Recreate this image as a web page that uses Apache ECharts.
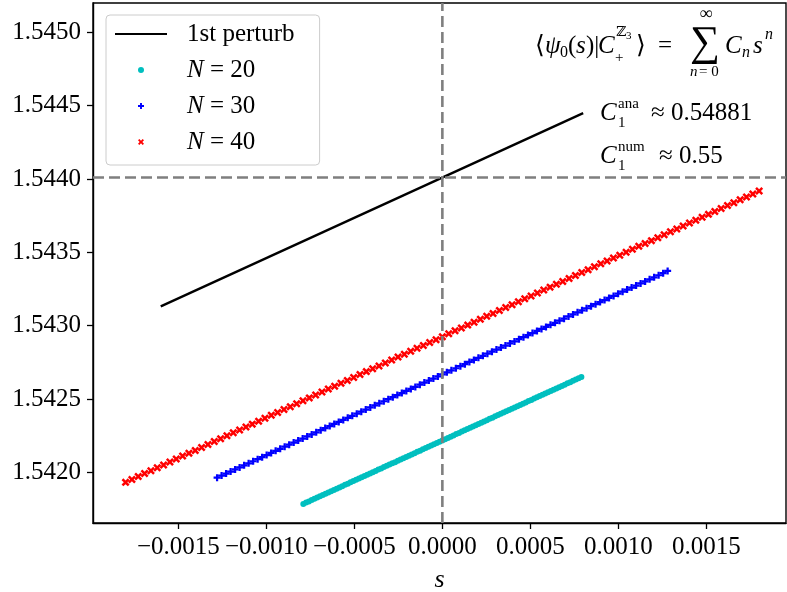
<!DOCTYPE html>
<html><head><meta charset="utf-8">
<script src="https://cdn.jsdelivr.net/npm/echarts@6/dist/echarts.min.js"></script>
<style>html,body{margin:0;padding:0;background:#fff;overflow:hidden}#c{width:787px;height:592px}</style>
</head><body><div id="c"></div>
<script>
// ---------- data ----------
const xMin = -0.001985, xMax = 0.0019525;
const yMin = 1.541655, yMax = 1.5452;
const xTicks = [-0.0015, -0.001, -0.0005, 0, 0.0005, 0.001, 0.0015];
const xTickLabels = ['\u22120.0015', '\u22120.0010', '\u22120.0005', '0.0000', '0.0005', '0.0010', '0.0015'];
const yTicks = [1.542, 1.5425, 1.543, 1.5435, 1.544, 1.5445, 1.545];
const yTickLabels = ['1.5420', '1.5425', '1.5430', '1.5435', '1.5440', '1.5445', '1.5450'];

const refS = 0;          // vertical dashed line
const refY = 1.54401;    // horizontal dashed line

const sBlack = [-0.0016, 0.0008];
const yBlack = [1.543132, 1.544449];

const sCyan = [-0.00079,-0.0007742,-0.0007584,-0.0007426,-0.0007268,-0.000711,-0.0006952,-0.0006794,-0.0006636,-0.0006478,
-0.000632,-0.0006162,-0.0006004,-0.0005846,-0.0005688,-0.000553,-0.0005372,-0.0005214,-0.0005056,-0.0004898,
-0.000474,-0.0004582,-0.0004424,-0.0004266,-0.0004108,-0.000395,-0.0003792,-0.0003634,-0.0003476,-0.0003318,
-0.000316,-0.0003002,-0.0002844,-0.0002686,-0.0002528,-0.000237,-0.0002212,-0.0002054,-0.0001896,-0.0001738,
-0.000158,-0.0001422,-0.0001264,-0.0001106,-0.0000948,-0.000079,-0.0000632,-0.0000474,-0.0000316,-0.0000158,
0,
0.0000158,0.0000316,0.0000474,0.0000632,0.000079,0.0000948,0.0001106,0.0001264,0.0001422,0.000158,
0.0001738,0.0001896,0.0002054,0.0002212,0.000237,0.0002528,0.0002686,0.0002844,0.0003002,0.000316,
0.0003318,0.0003476,0.0003634,0.0003792,0.000395,0.0004108,0.0004266,0.0004424,0.0004582,0.000474,
0.0004898,0.0005056,0.0005214,0.0005372,0.000553,0.0005688,0.0005846,0.0006004,0.0006162,0.000632,
0.0006478,0.0006636,0.0006794,0.0006952,0.000711,0.0007268,0.0007426,0.0007584,0.0007742,0.00079];
const yCyan = [1.541785,1.541794,1.541802,1.541811,1.541820,1.541828,1.541837,1.541846,1.541854,1.541863,
1.541872,1.541880,1.541889,1.541897,1.541906,1.541915,1.541923,1.541932,1.541941,1.541949,
1.541958,1.541967,1.541975,1.541984,1.541993,1.542001,1.542010,1.542019,1.542027,1.542036,
1.542045,1.542053,1.542062,1.542070,1.542079,1.542088,1.542096,1.542105,1.542114,1.542122,
1.542131,1.542140,1.542148,1.542157,1.542166,1.542174,1.542183,1.542192,1.542200,1.542209,
1.542218,
1.542226,1.542235,1.542243,1.542252,1.542261,1.542269,1.542278,1.542287,1.542295,1.542304,
1.542313,1.542321,1.542330,1.542339,1.542347,1.542356,1.542365,1.542373,1.542382,1.542391,
1.542399,1.542408,1.542416,1.542425,1.542434,1.542442,1.542451,1.542460,1.542468,1.542477,
1.542486,1.542494,1.542503,1.542512,1.542520,1.542529,1.542538,1.542546,1.542555,1.542564,
1.542572,1.542581,1.542589,1.542598,1.542607,1.542615,1.542624,1.542633,1.542641,1.542650];

const sBlue = [-0.00128,-0.0012544,-0.0012288,-0.0012032,-0.0011776,-0.001152,-0.0011264,-0.0011008,-0.0010752,-0.0010496,
-0.001024,-0.0009984,-0.0009728,-0.0009472,-0.0009216,-0.000896,-0.0008704,-0.0008448,-0.0008192,-0.0007936,
-0.000768,-0.0007424,-0.0007168,-0.0006912,-0.0006656,-0.00064,-0.0006144,-0.0005888,-0.0005632,-0.0005376,
-0.000512,-0.0004864,-0.0004608,-0.0004352,-0.0004096,-0.000384,-0.0003584,-0.0003328,-0.0003072,-0.0002816,
-0.000256,-0.0002304,-0.0002048,-0.0001792,-0.0001536,-0.000128,-0.0001024,-0.0000768,-0.0000512,-0.0000256,
0,
0.0000256,0.0000512,0.0000768,0.0001024,0.000128,0.0001536,0.0001792,0.0002048,0.0002304,0.000256,
0.0002816,0.0003072,0.0003328,0.0003584,0.000384,0.0004096,0.0004352,0.0004608,0.0004864,0.000512,
0.0005376,0.0005632,0.0005888,0.0006144,0.00064,0.0006656,0.0006912,0.0007168,0.0007424,0.000768,
0.0007936,0.0008192,0.0008448,0.0008704,0.000896,0.0009216,0.0009472,0.0009728,0.0009984,0.001024,
0.0010496,0.0010752,0.0011008,0.0011264,0.001152,0.0011776,0.0012032,0.0012288,0.0012544,0.00128];
const yBlue = [1.541964,1.541978,1.541992,1.542006,1.542020,1.542034,1.542048,1.542062,1.542076,1.542090,
1.542104,1.542118,1.542133,1.542147,1.542161,1.542175,1.542189,1.542203,1.542217,1.542231,
1.542245,1.542259,1.542273,1.542288,1.542302,1.542316,1.542330,1.542344,1.542358,1.542372,
1.542386,1.542400,1.542414,1.542428,1.542443,1.542457,1.542471,1.542485,1.542499,1.542513,
1.542527,1.542541,1.542555,1.542569,1.542583,1.542598,1.542612,1.542626,1.542640,1.542654,
1.542668,
1.542682,1.542696,1.542710,1.542724,1.542738,1.542753,1.542767,1.542781,1.542795,1.542809,
1.542823,1.542837,1.542851,1.542865,1.542879,1.542893,1.542908,1.542922,1.542936,1.542950,
1.542964,1.542978,1.542992,1.543006,1.543020,1.543034,1.543048,1.543063,1.543077,1.543091,
1.543105,1.543119,1.543133,1.543147,1.543161,1.543175,1.543189,1.543203,1.543218,1.543232,
1.543246,1.543260,1.543274,1.543288,1.543302,1.543316,1.543330,1.543344,1.543358,1.543373];

const sRed = [-0.0018,-0.001764,-0.001728,-0.001692,-0.001656,-0.00162,-0.001584,-0.001548,-0.001512,-0.001476,
-0.00144,-0.001404,-0.001368,-0.001332,-0.001296,-0.00126,-0.001224,-0.001188,-0.001152,-0.001116,
-0.00108,-0.001044,-0.001008,-0.000972,-0.000936,-0.0009,-0.000864,-0.000828,-0.000792,-0.000756,
-0.00072,-0.000684,-0.000648,-0.000612,-0.000576,-0.00054,-0.000504,-0.000468,-0.000432,-0.000396,
-0.00036,-0.000324,-0.000288,-0.000252,-0.000216,-0.00018,-0.000144,-0.000108,-0.000072,-0.000036,
0,
0.000036,0.000072,0.000108,0.000144,0.00018,0.000216,0.000252,0.000288,0.000324,0.00036,
0.000396,0.000432,0.000468,0.000504,0.00054,0.000576,0.000612,0.000648,0.000684,0.00072,
0.000756,0.000792,0.000828,0.000864,0.0009,0.000936,0.000972,0.001008,0.001044,0.00108,
0.001116,0.001152,0.001188,0.001224,0.00126,0.001296,0.001332,0.001368,0.001404,0.00144,
0.001476,0.001512,0.001548,0.001584,0.00162,0.001656,0.001692,0.001728,0.001764,0.0018];
const yRed = [1.541932,1.541952,1.541972,1.541992,1.542011,1.542031,1.542051,1.542071,1.542091,1.542111,
1.542131,1.542150,1.542170,1.542190,1.542210,1.542230,1.542250,1.542270,1.542289,1.542309,
1.542329,1.542349,1.542369,1.542389,1.542409,1.542429,1.542448,1.542468,1.542488,1.542508,
1.542528,1.542548,1.542568,1.542587,1.542607,1.542627,1.542647,1.542667,1.542687,1.542707,
1.542726,1.542746,1.542766,1.542786,1.542806,1.542826,1.542846,1.542865,1.542885,1.542905,
1.542925,
1.542945,1.542965,1.542985,1.543004,1.543024,1.543044,1.543064,1.543084,1.543104,1.543124,
1.543143,1.543163,1.543183,1.543203,1.543223,1.543243,1.543263,1.543282,1.543302,1.543322,
1.543342,1.543362,1.543382,1.543402,1.543422,1.543441,1.543461,1.543481,1.543501,1.543521,
1.543541,1.543561,1.543580,1.543600,1.543620,1.543640,1.543660,1.543680,1.543700,1.543719,
1.543739,1.543759,1.543779,1.543799,1.543819,1.543839,1.543858,1.543878,1.543898,1.543918];

// ---------- chart ----------
const SERIF = '"Liberation Serif", "DejaVu Serif", serif';
const pair = (xs, ys) => xs.map((x, i) => [x, ys[i]]);
const labelOf = (ticks, labels) => v => {
  const i = ticks.findIndex(t => Math.abs(t - v) < 1e-9);
  return i >= 0 ? labels[i] : '';
};
const PLUS = 'path://M3.4,0H6.6V3.4H10V6.6H6.6V10H3.4V6.6H0V3.4H3.4Z';
const CROSS = 'path://M0,2.2L2.2,0L5,2.8L7.8,0L10,2.2L7.2,5L10,7.8L7.8,10L5,7.2L2.2,10L0,7.8L2.8,5Z';
const LINEICON = 'path://M0,0H520V22H0Z';

const chart = echarts.init(document.getElementById('c'), null, {renderer: 'canvas'});

function t(text, x, y, size, italic, align) {
  return {
    type: 'text', z: 100, silent: true,
    style: {
      text: text, x: x, y: y, fill: '#000',
      font: (italic ? 'italic ' : '') + size + 'px ' + SERIF,
      textAlign: align || 'left', textVerticalAlign: 'middle'
    }
  };
}

const FS = 25;
const dashStyle = {color: '#7f7f7f', width: 2.6, type: [11, 5]};
const option = {
  animation: false,
  backgroundColor: '#fff',
  grid: {left: 93, right: 1, top: 3, bottom: 69, show: true, borderColor: '#000', borderWidth: 1.4,
         containLabel: false, outerBoundsMode: 'none'},
  xAxis: {
    type: 'value', min: xMin, max: xMax,
    name: 's', nameLocation: 'middle', nameGap: 44,
    nameTextStyle: {fontFamily: SERIF, fontStyle: 'italic', fontSize: 26, color: '#000'},
    axisLine: {show: true, onZero: false, lineStyle: {color: '#000', width: 1.4}},
    axisTick: {show: true, length: 6, inside: false, lineStyle: {color: '#000', width: 1.3}, customValues: xTicks},
    axisLabel: {customValues: xTicks, formatter: labelOf(xTicks, xTickLabels), fontFamily: SERIF, fontSize: FS, color: '#000', margin: 12},
    splitLine: {show: false}
  },
  yAxis: {
    type: 'value', min: yMin, max: yMax,
    axisLine: {show: true, onZero: false, lineStyle: {color: '#000', width: 1.4}},
    axisTick: {show: true, length: 6, inside: false, lineStyle: {color: '#000', width: 1.3}, customValues: yTicks},
    axisLabel: {customValues: yTicks, formatter: labelOf(yTicks, yTickLabels), fontFamily: SERIF, fontSize: FS, color: '#000', margin: 12},
    splitLine: {show: false}
  },
  legend: {
    orient: 'vertical', left: 106, top: 15, z: 20,
    data: [{name: '1st perturb', icon: LINEICON}, 'N=20', 'N=30', 'N=40'],
    itemWidth: 52, itemHeight: 6, itemGap: 10,
    padding: [6, 25, 10, 9],
    backgroundColor: '#fff', borderColor: '#cccccc', borderWidth: 1, borderRadius: 4,
    selectedMode: false,
    formatter: name => name.startsWith('N=') ? '{i|N} = ' + name.slice(2) : name,
    textStyle: {
      fontFamily: SERIF, fontSize: FS, color: '#000', lineHeight: 26, padding: [0, 0, 0, 15],
      rich: {i: {fontFamily: SERIF, fontStyle: 'italic', fontSize: FS, lineHeight: 26}}
    }
  },
  graphic: [
    // <psi_0(s)|C_+^{Z3}> = sum_{n=0}^{inf} C_n s^n
    t('\u27E8', 535, 46, 25, false),
    t('\u03C8', 545, 46, 25, true),
    t('0', 560, 53, 16, false),
    t('(', 568, 46, 25, false),
    t('s', 576, 46, 25, true),
    t(')|', 586, 46, 25, false),
    t('C', 598, 46, 25, true),
    t('\u2124', 616, 32, 14, false),
    t('3', 626, 36, 11, false),
    t('+', 615, 58, 15, false),
    t('\u27E9', 636, 46, 25, false),
    t('=', 658, 46, 25, false),
    t('\u2211', 705, 44, 42, false, 'center'),
    t('\u221E', 706, 14, 18, false, 'center'),
    t('n', 690, 72, 15, true),
    t('= 0', 699, 72, 15, false),
    t('C', 725, 46, 25, true),
    t('n', 742, 53, 16, true),
    t('s', 753, 46, 25, true),
    t('n', 765, 35, 16, true),
    // C_1^ana ≈ 0.54881
    t('C', 600, 113, 25, true),
    t('ana', 618, 104, 15, false),
    t('1', 618, 123, 15, false),
    t('\u2248 0.54881', 651, 113, 25, false),
    // C_1^num ≈ 0.55
    t('C', 600, 156, 25, true),
    t('num', 618, 147, 15, false),
    t('1', 618, 166, 15, false),
    t('\u2248 0.55', 659, 156, 25, false)
  ],
  series: [
    {
      name: '1st perturb', type: 'line', data: pair(sBlack, yBlack),
      showSymbol: false, symbol: 'none', lineStyle: {color: '#000', width: 2.4}, itemStyle: {color: '#000'}, z: 2
    },
    {
      name: 'N=20', type: 'scatter', data: pair(sCyan, yCyan),
      symbol: 'circle', symbolSize: 6, itemStyle: {color: '#00bfbf', opacity: 1}, z: 3
    },
    {
      name: 'N=30', type: 'scatter', data: pair(sBlue, yBlue),
      symbol: PLUS, symbolSize: 7, itemStyle: {color: '#0000ff', opacity: 1}, z: 4
    },
    {
      name: 'N=40', type: 'scatter', data: pair(sRed, yRed),
      symbol: CROSS, symbolSize: 8, itemStyle: {color: '#ff0000', opacity: 1}, z: 5
    },
    {
      name: 'vref', type: 'line', data: [[refS, yMin], [refS, yMax]], z: 6, silent: true,
      showSymbol: false, symbol: 'none', lineStyle: dashStyle, itemStyle: {color: '#7f7f7f'}
    },
    {
      name: 'href', type: 'line', data: [[xMin, refY], [xMax, refY]], z: 6, silent: true,
      showSymbol: false, symbol: 'none', lineStyle: dashStyle, itemStyle: {color: '#7f7f7f'}
    }
  ]
};
chart.setOption(option);
</script>
</body></html>
